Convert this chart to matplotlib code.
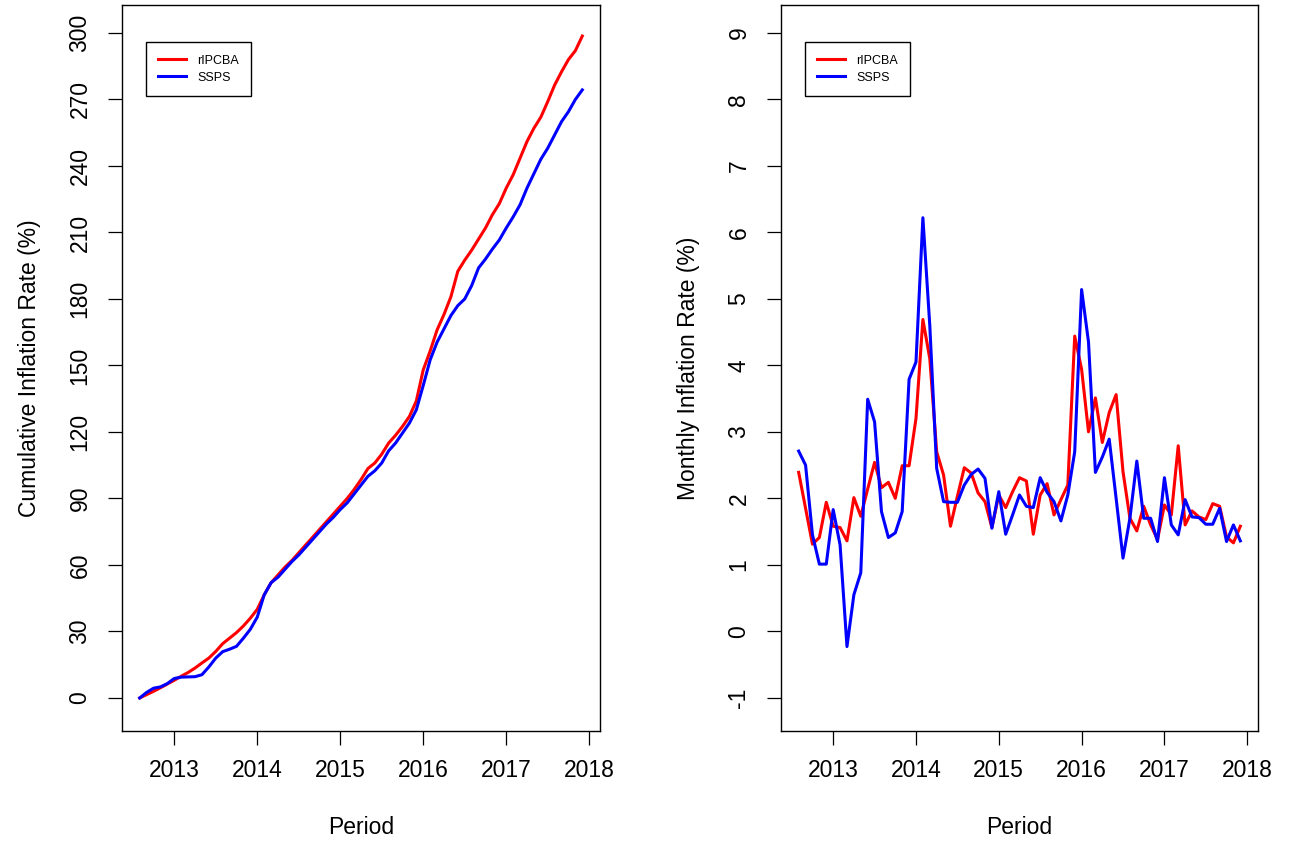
import numpy as np
import pandas as pd
import matplotlib
matplotlib.use("Agg")
import matplotlib.pyplot as plt

plt.rcParams["font.family"] = ["Liberation Sans", "DejaVu Sans"]

# Monthly periods, Aug 2012 - Dec 2017
periods = pd.date_range("2012-08-01", "2017-12-01", freq="MS")
series_names = ["rIPCBA", "SSPS"]
series_colors = ["#FF0000", "#0000FF"]

# Monthly inflation rate (%)
monthly_ripcba = [
    2.39, 1.85, 1.31, 1.41, 1.94, 1.58, 1.56, 1.36, 2.01, 1.73,
    2.14, 2.54, 2.16, 2.24, 2.00, 2.49, 2.49, 3.20, 4.69, 4.10,
    2.70, 2.35, 1.58, 2.03, 2.46, 2.38, 2.08, 1.95, 1.56, 2.05,
    1.86, 2.10, 2.31, 2.26, 1.46, 2.05, 2.22, 1.75, 1.98, 2.20,
    4.44, 3.94, 3.00, 3.51, 2.84, 3.29, 3.56, 2.40, 1.70, 1.51,
    1.88, 1.60, 1.38, 1.90, 1.75, 2.79, 1.60, 1.81, 1.72, 1.68,
    1.92, 1.88, 1.42, 1.33, 1.58,
]
monthly_ssps = [
    2.71, 2.50, 1.45, 1.01, 1.01, 1.83, 1.30, -0.23, 0.55, 0.88,
    3.49, 3.15, 1.80, 1.41, 1.48, 1.80, 3.79, 4.05, 6.22, 4.60,
    2.45, 1.95, 1.94, 1.94, 2.20, 2.36, 2.44, 2.30, 1.55, 2.10,
    1.46, 1.75, 2.05, 1.88, 1.86, 2.31, 2.09, 1.95, 1.66, 2.05,
    2.70, 5.14, 4.35, 2.39, 2.62, 2.89, 2.00, 1.10, 1.70, 2.56,
    1.70, 1.70, 1.35, 2.31, 1.60, 1.45, 1.98, 1.72, 1.71, 1.61,
    1.61, 1.85, 1.35, 1.60, 1.36,
]

# Cumulative inflation rate (%)
cumulative_ripcba = [
    0.0, 1.5, 3.0, 4.6, 6.3, 8.0, 9.8, 11.5, 13.5, 15.8,
    18.0, 21.0, 24.5, 27.0, 29.5, 32.5, 36.0, 40.0, 46.5, 52.0,
    55.5, 59.0, 62.0, 65.5, 69.0, 72.5, 76.0, 79.5, 83.0, 86.5,
    90.0, 94.0, 98.5, 103.5, 106.0, 110.0, 115.0, 118.5, 122.5, 127.0,
    134.0, 148.0, 156.5, 166.0, 173.0, 181.0, 192.5, 197.5, 202.0, 207.0,
    212.0, 218.0, 223.0, 230.0, 236.0, 243.5, 251.0, 257.0, 262.0, 269.0,
    276.5, 282.5, 288.0, 292.0, 298.6,
]
cumulative_ssps = [
    0.0, 2.5, 4.4, 5.0, 6.5, 8.8, 9.4, 9.5, 9.6, 10.5,
    14.0, 18.0, 20.9, 22.0, 23.3, 27.0, 31.0, 36.5, 46.5, 52.0,
    54.5, 58.0, 61.5, 64.5, 68.0, 71.5, 75.0, 78.5, 81.5, 85.0,
    88.0, 92.0, 96.0, 100.0, 102.5, 106.0, 111.5, 115.0, 119.5, 124.0,
    130.0, 141.0, 152.5, 160.5, 166.5, 172.5, 177.0, 180.0, 186.0, 194.0,
    198.0, 202.5, 206.6, 212.0, 217.0, 222.5, 230.0, 236.5, 243.0, 248.0,
    254.0, 260.0, 264.5, 270.0, 274.3,
]

year_ticks = [2013, 2014, 2015, 2016, 2017, 2018]
cum_ticks = list(range(0, 301, 30))
monthly_ticks = list(range(-1, 10))

# decimal-year positions of each month
t = periods.year + (periods.month - 1) / 12.0

W, H = 1289, 843
fig = plt.figure(figsize=(W / 100, H / 100), dpi=100)
ax1 = fig.add_axes([122 / W, (H - 731) / H, 478 / W, 726 / H])
ax2 = fig.add_axes([781 / W, (H - 731) / H, 477 / W, 726 / H])

FS = 16.5


def style_axes(ax, yticks, ylabel):
    ax.set_xlim(2012.37, 2018.13)
    ax.set_xticks(year_ticks)
    ax.set_xticklabels([str(y) for y in year_ticks])
    ax.set_yticks(yticks)
    ax.set_yticklabels([str(v) for v in yticks], rotation=90, va="center")
    for s in ax.spines.values():
        s.set_linewidth(1.0)
        s.set_color("black")
    ax.tick_params(axis="both", direction="out", length=10, width=0.9,
                   colors="black", labelsize=FS)
    ax.tick_params(axis="x", pad=10)
    ax.tick_params(axis="y", pad=12)
    ax.set_xlabel("Period", fontsize=FS, labelpad=25)
    ax.set_ylabel(ylabel, fontsize=FS, labelpad=20)
    leg = ax.legend(loc="upper left", bbox_to_anchor=(0.05, 0.949),
                    borderaxespad=0, fontsize=9.0, frameon=True, fancybox=False,
                    framealpha=1, edgecolor="black", handlelength=2.2,
                    handletextpad=0.9, borderpad=1.0, labelspacing=0.4)
    leg.get_frame().set_linewidth(1.0)


ax1.plot(t, cumulative_ripcba, color=series_colors[0], lw=2.2, label=series_names[0])
ax1.plot(t, cumulative_ssps, color=series_colors[1], lw=2.2, label=series_names[1])
ax1.set_ylim(-14.9, 312.6)
style_axes(ax1, cum_ticks, "Cumulative Inflation Rate (%)")

ax2.plot(t, monthly_ripcba, color=series_colors[0], lw=2.2, label=series_names[0])
ax2.plot(t, monthly_ssps, color=series_colors[1], lw=2.2, label=series_names[1])
ax2.set_ylim(-1.5, 9.42)
style_axes(ax2, monthly_ticks, "Monthly Inflation Rate (%)")

fig.savefig("out.png", dpi=100, facecolor="white")
